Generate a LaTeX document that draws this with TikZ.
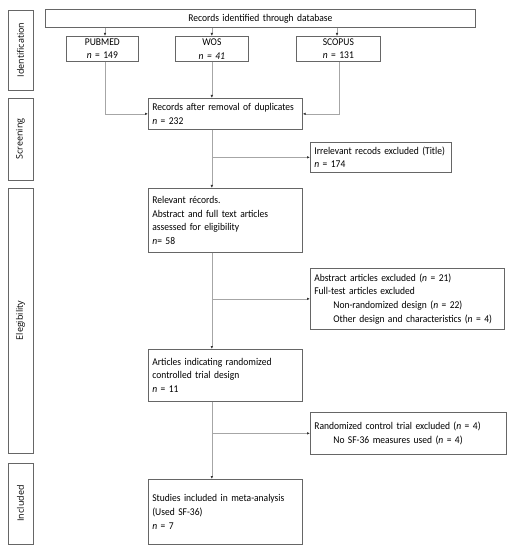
\documentclass[tikz,border=0pt]{standalone}
\usepackage{fontspec}
\setmainfont{Carlito}[FakeStretch=0.92]
\newfontfamily\phasefont{Open Sans}
\usetikzlibrary{arrows.meta}

\tikzset{
    box/.style={draw=black!60, line width=0.7bp, rectangle, anchor=north west, align=left,
        inner xsep=4bp, inner ysep=2bp, font=\fontsize{10.4}{13.7}\selectfont},
    cbox/.style={box, align=center},
    side/.style={draw=black!60, line width=0.7bp, rectangle, rotate=90, minimum height=25bp,
        inner sep=0pt, font=\phasefont\fontsize{9}{11}\selectfont},
    link/.style={draw=black!35, line width=0.6bp, -{Latex[length=3bp,width=2.6bp,black!80]}},
    plain/.style={draw=black!35, line width=0.6bp}
}

\begin{document}
\begin{tikzpicture}[x=1bp,y=-1bp]
            \useasboundingbox (0,0) rectangle (524,550);

            % phases on the left
            \node[side, minimum width=80bp] (idph) at (20.5,50) {Identification};
            \node[side, minimum width=82bp] (scph) at (20.5,139) {Screening};
            \node[side, minimum width=265bp] (elph) at (20.5,320.5) {Elegibility};
            \node[side, minimum width=81bp] (inph) at (20.5,503.5) {Included};

            % identification
            \node[cbox, text width=422bp, minimum height=18bp] (db) at (45,9) {Records identified through database};
            \node[cbox, text width=64bp, minimum height=25bp] (pubmed) at (66,36) {PUBMED\\\textit{n} = 149};
            \node[cbox, text width=65bp, minimum height=25bp] (wos) at (175,36) {WOS\\\textit{n = 41}};
            \node[cbox, text width=76bp, minimum height=25bp] (scopus) at (296,36) {SCOPUS\\\textit{n} = 131};

            % main column
            \node[box, text width=146bp, minimum height=31bp] (dup) at (148,98) {Records after removal of duplicates\\\textit{n} = 232};
            \node[box, text width=146bp, minimum height=64bp] (rel) at (148,188) {Relevant récords.\\Abstract and full text articles\\assessed for eligibility\\\textit{n}= 58};
            \node[box, text width=146bp, minimum height=52bp] (art) at (148,349) {Articles indicating randomized\\controlled trial design\\\textit{n} = 11};
            \node[box, text width=146bp, minimum height=65bp] (stu) at (148,479) {Studies included in meta-analysis\\(Used SF-36)\\\textit{n} = 7};

            % excluded records
            \node[box, text width=133bp, minimum height=30bp] (irr) at (310,142) {Irrelevant recods excluded (Title)\\\textit{n} = 174};
            \node[box, text width=186bp, minimum height=61bp] (abs) at (310,268) {Abstract articles excluded (\textit{n} = 21)\\Full-test articles excluded\\\hspace*{19bp}Non-randomized design (\textit{n} = 22)\\\hspace*{19bp}Other design and characteristics (\textit{n} = 4)};
            \node[box, text width=188bp, minimum height=42bp] (rct) at (310,412) {Randomized control trial excluded (\textit{n} = 4)\\\hspace*{19bp}No SF-36 measures used (\textit{n} = 4)};

            % arrows from the database
            \draw[link] (db.south -| 105,0) -- (pubmed.north -| 105,0);
            \draw[link] (db.south -| wos.north) -- (wos.north);
            \draw[link] (db.south -| 337,0) -- (scopus.north -| 337,0);

            % merge into duplicates
            \draw[link] (pubmed.south -| 105,0) |- (dup.west);
            \draw[link] (wos.south) -- (dup.north -| wos.south);
            \draw[link] (scopus.south -| 339,0) |- (dup.east);

            % spine
            \draw[link] (dup.south -| wos.south) -- (rel.north -| wos.south);
            \draw[link] (rel.south -| wos.south) -- (art.north -| wos.south);
            \draw[link] (art.south -| wos.south) -- (stu.north -| wos.south);

            % branches to the right
            \draw[link] (irr.west -| wos.south) -- (irr.west);
            \draw[link] (abs.west -| wos.south) -- (abs.west);
            \draw[link] (rct.west -| wos.south) -- (rct.west);
        \end{tikzpicture}
\end{document}
